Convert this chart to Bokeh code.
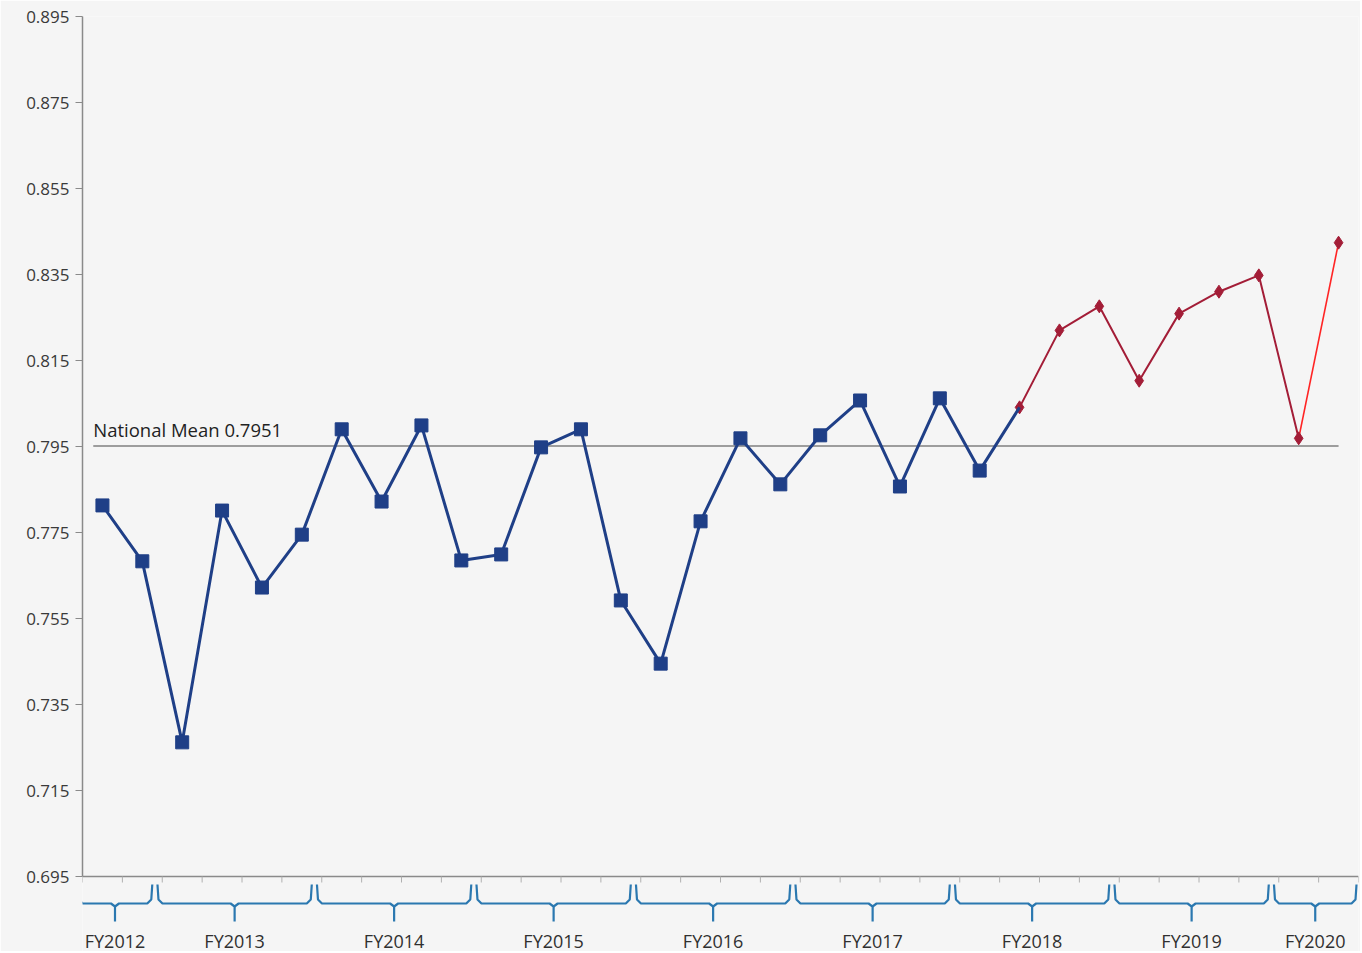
from bokeh.plotting import figure
from bokeh.models import Range1d, FixedTicker, PrintfTickFormatter
from bokeh.core.properties import value
from bokeh.embed import file_html
from bokeh.resources import INLINE

# ---------------- data ----------------
values = [0.7813, 0.7683, 0.7262, 0.7801, 0.7622, 0.7745, 0.7990, 0.7822,
          0.7999, 0.7685, 0.7699, 0.7948, 0.7990, 0.7592, 0.7445, 0.7776,
          0.7969, 0.7862, 0.7976, 0.8057, 0.7857, 0.8062, 0.7894,
          0.8041, 0.8220, 0.8276, 0.8103, 0.8259, 0.8310, 0.8348, 0.7969, 0.8424]
n_actual = 23  # first 23 points are blue squares, rest red diamonds
fy_labels = ["FY2012", "FY2013", "FY2014", "FY2015", "FY2016",
             "FY2017", "FY2018", "FY2019", "FY2020"]
fy_sizes = [2, 4, 4, 4, 4, 4, 4, 4, 2]
national_mean = 0.7951
national_label = "National Mean 0.7951"
yticks = [0.695, 0.715, 0.735, 0.755, 0.775, 0.795, 0.815, 0.835, 0.855, 0.875, 0.895]

# ---------------- layout constants ----------------
BG = "#f5f5f5"
W, H = 1360, 951
ML, MR, MT, MB = 82, 2, 16, 0
frame_w = W - ML - MR
frame_h = H - MT - MB
y_top, y_axis_min = 0.895, 0.695
px_per_unit = 4300.0
y_bottom = y_top - frame_h / px_per_unit
n = len(values)
dxpx = n / frame_w          # data units per pixel in x
dypx = 1.0 / px_per_unit    # data units per pixel in y

p = figure(width=W, height=H, output_backend="svg", toolbar_location=None,
           x_range=Range1d(0, n), y_range=Range1d(y_bottom, y_top),
           x_axis_type=None, min_border_left=ML, min_border_right=MR,
           min_border_top=MT, min_border_bottom=MB)
p.background_fill_color = BG
p.border_fill_color = BG
p.outline_line_color = None
p.grid.visible = False

ax = p.yaxis[0]
ax.ticker = FixedTicker(ticks=yticks, minor_ticks=[])
ax.bounds = (y_axis_min, y_top)
ax.formatter = PrintfTickFormatter(format="%.3f")
ax.axis_line_color = "#8a8a8a"
ax.axis_line_width = 1.5
ax.major_tick_line_color = "#8a8a8a"
ax.major_tick_out = 7
ax.major_tick_in = 0
ax.minor_tick_line_color = None
ax.major_label_text_font = "Open Sans"
ax.major_label_text_font_size = "17px"
ax.major_label_text_color = "#3a3a3a"
ax.major_label_standoff = 6

# x baseline and category ticks
p.segment(x0=[0], y0=[y_axis_min], x1=[n], y1=[y_axis_min],
          line_color="#8a8a8a", line_width=1.5)
bx = list(range(n + 1))
p.segment(x0=bx, y0=[y_axis_min] * len(bx), x1=bx, y1=[y_axis_min - 6 * dypx] * len(bx),
          line_color="#b0b0b0", line_width=1)

# braces
brace_xs, brace_ys = [], []
lab_x = []
start = 0
yb_top = y_axis_min - 8 * dypx
yb_line = y_axis_min - 27 * dypx
yb_tip = y_axis_min - 45 * dypx
for size in fy_sizes:
    a, b = start, start + size
    xl = a - 0.12
    xr = b - 0.25
    if b == n:
        xr = b - 0.05
    xm = (xl + xr) / 2
    brace_xs.append([xl, xl + 1 * dxpx, xl + 5 * dxpx, xm - 4 * dxpx, xm, xm])
    brace_ys.append([yb_top, yb_line + 4 * dypx, yb_line, yb_line, yb_line - 3 * dypx, yb_tip])
    brace_xs.append([xr, xr - 1 * dxpx, xr - 5 * dxpx, xm + 4 * dxpx, xm])
    brace_ys.append([yb_top, yb_line + 4 * dypx, yb_line, yb_line, yb_line - 3 * dypx])
    lab_x.append(xm)
    start = b
p.multi_line(xs=brace_xs, ys=brace_ys, line_color="#2b78b0", line_width=2.2)
p.text(x=lab_x, y=[y_axis_min - 64 * dypx] * len(lab_x), text=fy_labels,
       text_font=value("Open Sans"), text_font_size="18px", text_color="#303030",
       text_align="center", text_baseline="middle")

# national mean
p.segment(x0=[0.27], y0=[national_mean], x1=[n - 0.5], y1=[national_mean],
          line_color="#7f7f7f", line_width=1.6)
p.text(x=[0.27], y=[national_mean + 4 * dypx], text=[national_label],
       text_font=value("Open Sans"), text_font_size="18.5px", text_color="#222222",
       text_align="left", text_baseline="bottom")

xs = [i + 0.5 for i in range(n)]
# red segments
p.line(xs[n_actual:n - 1], values[n_actual:n - 1], line_color="#a31d37", line_width=2)
p.line(xs[n - 2:], values[n - 2:], line_color="#ff2424", line_width=1.6)
p.scatter(xs[n_actual:], values[n_actual:], marker="diamond", size=13,
          fill_color="#a31d37", line_color="#a31d37")
# blue series (line continues to first red point)
p.line(xs[:n_actual + 1], values[:n_actual + 1], line_color="#1f3f87", line_width=3)
p.scatter(xs[:n_actual], values[:n_actual], marker="square", size=13,
          fill_color="#1f3f87", line_color="#1f3f87")

open("out.html", "w").write(file_html(p, INLINE))
